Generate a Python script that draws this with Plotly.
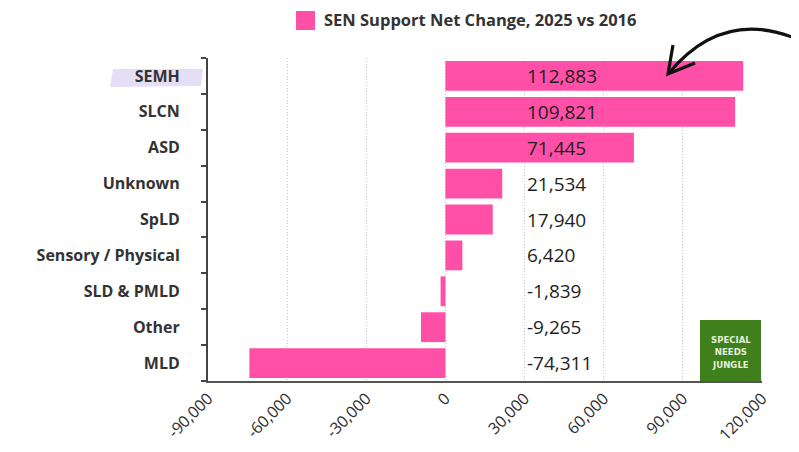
import plotly.graph_objects as go

categories = ["SEMH", "SLCN", "ASD", "Unknown", "SpLD", "Sensory / Physical",
              "SLD & PMLD", "Other", "MLD"]
values = [112883, 109821, 71445, 21534, 17940, 6420, -1839, -9265, -74311]
series_name = "SEN Support Net Change, 2025 vs 2016"
tick_vals = [-90000, -60000, -30000, 0, 30000, 60000, 90000, 120000]
tick_text = ["-90,000", "-60,000", "-30,000", "0", "30,000", "60,000", "90,000", "120,000"]
label_x = 30000

PINK = "#FF4FA6"
FONT = "Open Sans"

# page body has an 8px margin; size the figure to fit the 799x452 window
W, H = 791, 444
L, R, T, B = 200, 37, 50, 71
pw, ph = W - L - R, H - T - B
OFF = 8


def px(x):  # screen pixel -> paper x
    return (x - OFF - L) / pw


def py(y):  # screen pixel -> paper y
    return (H - B - (y - OFF)) / ph


fig = go.Figure()
fig.add_trace(go.Bar(
    y=categories, x=values, orientation="h", marker=dict(color=PINK, line=dict(width=0)),
    name=series_name, showlegend=False, hoverinfo="x+y",
))

annotations = []
for c, v in zip(categories, values):
    annotations.append(dict(
        x=label_x, y=c, xref="x", yref="y", text=f"{v:,}",
        showarrow=False, xanchor="left", yanchor="middle", xshift=0,
        font=dict(family=FONT, size=19, color="#1e1e1e"),
    ))

# legend (manual)
annotations.append(dict(
    x=px(322), y=py(20), xref="paper", yref="paper", text=f"<b>{series_name}</b>",
    showarrow=False, xanchor="left", yanchor="middle",
    font=dict(family=FONT, size=16.5, color="#333333"),
))
# logo text
annotations.append(dict(
    x=px(730.5), y=py(352), xref="paper", yref="paper",
    text="<b>SPECIAL<br>NEEDS<br>JUNGLE</b>",
    showarrow=False, xanchor="center", yanchor="middle",
    font=dict(family="DejaVu Sans Condensed", size=9.5, color="#e4efd8"),
))

shapes = [
    # SEMH highlight
    dict(type="path", xref="paper", yref="paper", layer="below",
         path=f"M {px(113)},{py(69)} L {px(203)},{py(69)} L {px(201)},{py(86)} L {px(110)},{py(87)} Z",
         fillcolor="#E6DEF5", line=dict(width=0)),
    # legend swatch
    dict(type="rect", xref="paper", yref="paper",
         x0=px(296), x1=px(315), y0=py(30), y1=py(11),
         fillcolor=PINK, line=dict(width=0)),
    # logo
    dict(type="rect", xref="paper", yref="paper",
         x0=px(700), x1=px(761), y0=py(381), y1=py(320),
         fillcolor="#3F7F1C", line=dict(width=0)),
    # arrow curve
    dict(type="path", xref="paper", yref="paper",
         path=f"M {px(812)},{py(46)} Q {px(728)},{py(2)} {px(669)},{py(73)}",
         line=dict(color="#111111", width=3.2)),
    dict(type="path", xref="paper", yref="paper",
         path=f"M {px(673)},{py(45)} L {px(668)},{py(74)} L {px(695)},{py(63)}",
         line=dict(color="#111111", width=3.2)),
]

fig.update_layout(
    width=W, height=H,
    margin=dict(l=L, r=R, t=T, b=B, autoexpand=False),
    paper_bgcolor="white", plot_bgcolor="white",
    bargap=0.17,
    annotations=annotations, shapes=shapes,
    font=dict(family=FONT, color="#333333"),
)
fig.update_xaxes(
    range=[-90000, 120000], tickvals=tick_vals, ticktext=tick_text, tickangle=-45,
    showgrid=True, gridcolor="#c4c4c4", griddash="1px,2px", gridwidth=1,
    zeroline=False, showline=True, linecolor="#555555", linewidth=2,
    ticks="", tickfont=dict(family=FONT, size=16, color="#2e2e2e"),
)
fig.update_yaxes(
    categoryorder="array", categoryarray=categories, autorange="reversed",
    showline=True, linecolor="#444444", linewidth=2,
    ticks="outside", tickson="boundaries", ticklen=5, tickcolor="#444444", tickwidth=2,
    ticklabelstandoff=23,
    tickfont=dict(family=FONT, size=16, color="#333333"),
    showgrid=False,
)
fig.update_yaxes(tickvals=categories, ticktext=[f"<b>{c}</b>" for c in categories])

fig.write_html("out.html")
